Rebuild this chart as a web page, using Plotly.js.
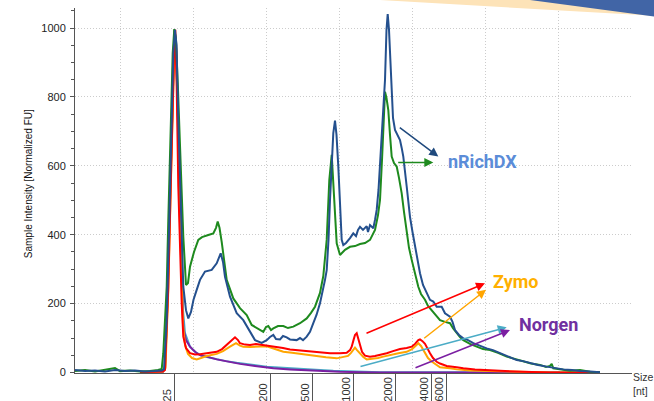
<!DOCTYPE html>
<html><head><meta charset="utf-8">
<script src="https://cdn.plot.ly/plotly-3.0.1.min.js"></script>
<style>html,body{margin:0;padding:0;background:#fff;}#chart{width:654px;height:401px;}</style>
</head><body><div id="chart"></div>
<script>
// Size ladder (nt) tick positions on the migration axis
const sizeTickPos = [99.5, 195.7, 237.7, 278.7, 320.7, 356.7, 371.5];
const sizeTickText = ['25', '200', '500', '1000', '2000', '4000', '6000'];

// nRichDX sample A (green)
const nrichAPos = [0,10,20,30,40,45,55,65,75,83,86.7,88.3,91.7,93.3,95.7,97.7,99.3,101,103,105,108.3,111,113,115,119,123.3,127,133.3,138.3,141,142.7,144.5,146.7,151.7,158.3,165,171.7,176.7,183.3,188.3,191,193.3,196,198.3,203,208.3,213,218.3,225,231.7,236,240,245,248.3,251.7,254.3,256.7,258.3,259.5,261.7,265,270,275,280,285,290,295,300,303,305,307,308.3,310,311.5,313.3,315,316.7,319,321.7,324,326.7,329,331.7,334,336.7,340,343.3,346,350,353,356.7,361,365,370,375,378,381.7,385,388.3,395,401.7,408,415,423,431.7,440,448.3,456,465,471,475,476.7,478.3,485,495,505,515,525];
const nrichAVal = [4,7,3,7,13,4,6,3,4,7,10,56,249,443,733,927,997,966,820,637,394,254,260,307,350,385,393,399,404,420,438,420,379,269,215,187,167,138,128,118,132,135,123,128,135,135,129,133,143,157,173,191,231,280,385,559,632,550,457,375,341,356,365,367,373,376,385,414,457,501,617,695,815,797,762,690,627,608,598,565,520,466,404,362,327,283,249,228,211,193,181,164,152,147,143,129,114,103,94,83,75,68,65,57,46,39,31,26,22,16,19,25,12,10,5,7,2,1];

// nRichDX sample B (dark blue)
const nrichBPos = [0,10,20,30,40,50,60,70,80,87,89,91.7,94.3,96.7,98.3,100,101.5,103.3,106.7,108.3,111,113.3,116,118.5,121.7,125,130,136.7,141.7,145.7,148,150,155,161.7,168.3,175,180,186.7,191.7,195,198.3,201,205,208,211.7,215,221.7,225,228,231.7,235,238.3,241.5,245,248.3,250,251.7,253.5,255,256.7,258.3,260,261.5,263.3,265,266.7,268.3,271,275,278.3,281,283,285,288,291.7,293,295,298.3,300,301.7,303.5,305,306.7,308.3,310,311.5,312.7,314,315,316.7,318,320,322.5,325,326.7,328.3,331.7,335,337.5,340,342.5,345,348,351.7,355,358.3,361.7,366.7,370,375,377.5,380,384,388.3,393,398.3,405,411.7,418,425,433,441.7,448,455,463,471.7,480,488.3,497,505,515,525];
const nrichBVal = [7,4,6,3,7,4,6,3,4,6,10,152,443,733,927,995,951,733,443,249,181,157,176,211,240,269,293,298,317,346,321,278,220,172,152,118,94,86,94,103,109,97,96,106,102,96,94,100,94,104,118,143,167,201,240,269,297,385,501,617,695,731,690,598,472,385,370,376,390,404,396,414,423,414,425,408,428,419,443,472,530,598,675,743,849,995,1041,995,937,801,739,704,687,675,652,627,540,452,408,365,321,288,254,230,211,206,191,191,172,162,147,123,109,99,94,85,77,70,65,56,48,36,33,27,22,17,13,9,7,4,3,1];

// Zymo sample A (red)
const zymoAPos = [65,80,88,90,93.3,95.7,98.3,99.5,100.3,101.7,103.3,105,106.7,108.3,111,115,120,125,133.3,141.7,147,151.7,156.7,160,163,165,170,175,181,188.3,195,201.7,208,215,225,235,245,255,265,271.7,275,276.7,278.5,280,281.7,283,285,287,290,295,300,305,311.7,318,325,331.7,336.7,340,343.3,345,347.5,350,352.5,355,358,361.7,365,371.7,381.7,388.3,400,415,430,448,465,475,525];
const zymoAVal = [1,1,3,7,249,540,878,975,995,830,540,346,201,104,71,56,52,53,56,60,68,80,94,102,94,85,81,80,83,80,78,75,71,67,64,60,58,56,56,57,65,75,94,109,114,100,77,60,49,46,48,51,56,62,68,71,75,83,94,96,91,83,68,56,42,31,26,19,15,12,9,6,4,2,1,0,0];

// Zymo sample B (orange)
const zymoBPos = [65,80,88,90.5,93.3,95.7,98.3,99.7,101.2,102.5,104,106,108,110,113,117,121.7,126,131.7,141.7,148,155,161,165,168.3,175,181.7,191.7,200,208.3,217,225,233,241.7,251,261.7,268,273,276,278.5,280,282,285,288.3,291.7,297,303,308.3,315,323.3,331.7,337,341,343.3,346,350,353,356.7,361,365,375,381.7,395,415,435,455,475,525];
const zymoBVal = [1,1,3,13,240,530,864,986,937,791,530,298,138,80,54,42,38,42,48,54,62,75,85,78,75,74,75,76,68,60,57,54,49,46,44,41,44,48,57,68,72,65,54,45,38,39,42,46,51,56,60,68,78,85,77,56,42,32,22,15,12,9,6,4,2,1,0,0];

// Norgen sample A (light blue)
const norgenAPos = [65,88,90,92.5,95,97.5,99.5,101,102.5,104,106,108,110,112.5,115,120,125,133,141.7,151,161.7,175,191.7,208,225,241,258.3,275,290,305,525];
const norgenAVal = [1,3,13,210,501,820,995,951,791,588,341,181,114,91,75,60,51,44,38,33,28,23,17,14,10,8,5,3,1,1,0];

// Norgen sample B (purple)
const norgenBPos = [65,88,90,92.5,95,97.5,99.5,101,102.5,104,106,108.3,111,115,118.3,121.7,126,131.7,141.7,151,165,180,198.3,215,231.7,248,265,285,305,485];
const norgenBVal = [1,3,13,210,501,820,995,960,820,617,356,129,94,75,65,56,49,46,38,32,25,19,12,9,6,4,2,1,0,0];

const series = [
  {name:'Norgen A', x:norgenAPos, y:norgenAVal, color:'#4BACC6'},
  {name:'Norgen B', x:norgenBPos, y:norgenBVal, color:'#7B1FA2'},
  {name:'Zymo B', x:zymoBPos, y:zymoBVal, color:'#FFA500'},
  {name:'Zymo A', x:zymoAPos, y:zymoAVal, color:'#FF0000'},
  {name:'nRichDX A', x:nrichAPos, y:nrichAVal, color:'#1E8A1E'},
  {name:'nRichDX B', x:nrichBPos, y:nrichBVal, color:'#24508E'}
];
const traces = series.map(s => ({
  type:'scatter', mode:'lines', name:s.name, x:s.x, y:s.y,
  line:{color:s.color, width:2, shape:'linear'}, hoverinfo:'skip'
}));

const labelFont = {family:'Liberation Sans, Arial, sans-serif', size:11, color:'#333'};
const tickLabelAnnos = sizeTickText.map((t, i) => ({
  x:sizeTickPos[i], xref:'x', y:-0.0849, yref:'paper', text:t,
  textangle:-90, showarrow:false, xanchor:'center', yanchor:'bottom', xshift:-8,
  font:labelFont
}));

function arrow(x, y, ax, ay, color) {
  return {x:x, y:y, ax:ax, ay:ay, xref:'x', yref:'y', axref:'x', ayref:'y',
    text:'', showarrow:true, arrowhead:2, arrowsize:1.2, arrowwidth:1.5, arrowcolor:color, standoff:0};
}
const boldFont = (c) => ({family:'Roboto, Arial, sans-serif', size:18, color:c, weight:700});

const annotations = tickLabelAnnos.concat([
  {x:-0.0844, xref:'paper', y:0.52, yref:'paper', text:'Sample Intensity [Normalized FU]', textangle:-90,
   showarrow:false, xanchor:'center', yanchor:'middle', font:{family:'Liberation Sans, Arial, sans-serif', size:10, color:'#111'}},
  {x:0.9982, xref:'paper', y:0.011, yref:'paper', text:'Size<br>[nt]', showarrow:false,
   xanchor:'left', yanchor:'top', align:'left', font:{family:'Liberation Sans, Arial, sans-serif', size:10.5, color:'#333'}},
  arrow(363.3, 627, 323.3, 714, '#1F497D'),
  arrow(358.3, 610, 321.7, 610, '#1E8A1E'),
  arrow(410, 259, 290, 112, '#FF0000'),
  arrow(411, 240, 347.7, 96, '#FFA500'),
  arrow(431.7, 131, 284, 16, '#4BACC6'),
  arrow(435, 123, 339, 12, '#7B1FA2'),
  {x:407, y:613, xref:'x', yref:'y', text:'nRichDX', showarrow:false, xanchor:'center', yanchor:'middle', font:boldFont('#5B8CD8')},
  {x:440.5, y:264, xref:'x', yref:'y', text:'Zymo', showarrow:false, xanchor:'center', yanchor:'middle', font:boldFont('#FFB000')},
  {x:473, y:138, xref:'x', yref:'y', text:'Norgen', showarrow:false, xanchor:'center', yanchor:'middle', font:boldFont('#7030A0')}
]);

const gridDash = '1px,2px';
const layout = {
  width:654, height:401,
  margin:{l:75, r:22, t:8, b:28, pad:0},
  paper_bgcolor:'#ffffff', plot_bgcolor:'#ffffff',
  showlegend:false,
  font:{family:'Liberation Sans, Arial, sans-serif', size:11, color:'#222'},
  xaxis:{
    range:[0, 557], tickmode:'array', tickvals:sizeTickPos, ticktext:sizeTickText,
    showticklabels:false, ticks:'outside', ticklen:28, tickwidth:1, tickcolor:'#555',
    showgrid:false, zeroline:false, showline:true, linecolor:'#555', linewidth:1,
    layer:'below traces', fixedrange:true,
    minor:{tick0:45, dtick:73.14, showgrid:true, gridcolor:'#cccccc', griddash:gridDash, gridwidth:1, ticks:''}
  },
  yaxis:{
    range:[-1.5, 1058.3], tick0:0, dtick:200, ticks:'outside', ticklen:4, tickwidth:1, tickcolor:'#555',
    showgrid:true, gridcolor:'#cccccc', griddash:gridDash, gridwidth:1,
    zeroline:false, showline:true, linecolor:'#555', linewidth:1, layer:'below traces',
    tickfont:{family:'Liberation Sans, Arial, sans-serif', size:11, color:'#222'},
    ticklabelstandoff:2, fixedrange:true,
    minor:{dtick:50, ticks:'outside', ticklen:3, tickcolor:'#555', showgrid:false}
  },
  annotations:annotations,
  shapes:[
    {type:'path', xref:'paper', yref:'paper', path:'M 0.5476 1.0219 L 1.0395 1.0219 L 1.0395 0.9786 Z',
     fillcolor:'#FDE3B8', line:{width:0}, layer:'above'},
    {type:'path', xref:'paper', yref:'paper', path:'M 0.8169 1.0219 L 1.0395 1.0219 L 1.0395 0.9767 Z',
     fillcolor:'#4165A6', line:{width:0}, layer:'above'}
  ]
};

Plotly.newPlot('chart', traces, layout, {staticPlot:true, displayModeBar:false});
</script>
</body></html>
